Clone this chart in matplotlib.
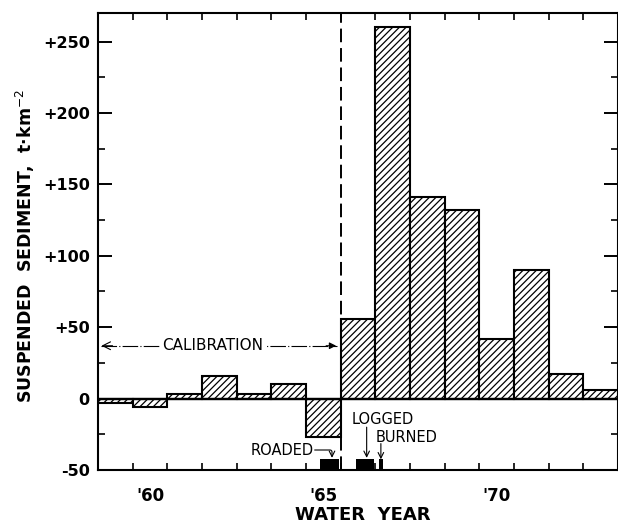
import matplotlib.pyplot as plt
import numpy as np

# water year and suspended sediment difference (t/km2)
years = [1959, 1960, 1961, 1962, 1963, 1964, 1965, 1966, 1967, 1968, 1969, 1970, 1971, 1972, 1973]
sediment = [-3, -6, 3, 16, 3, 10, -27, 56, 260, 141, 132, 42, 90, 17, 6]

# treatment periods (water year fractions)
treat_names = ['ROADED', 'LOGGED', 'BURNED']
treat_start = [1964.9, 1965.95, 1966.6]
treat_end = [1965.45, 1966.45, 1966.72]

yticks = [-50, 0, 50, 100, 150, 200, 250]
ytick_labels = ['-50', '0', '+50', '+100', '+150', '+200', '+250']
xticks = [1960, 1965, 1970]
xtick_labels = ["'60", "'65", "'70"]

plt.rcParams['hatch.linewidth'] = 0.9
plt.rcParams['font.family'] = 'DejaVu Sans'

fig = plt.figure(figsize=(6.18, 5.25), dpi=100)
ax = fig.add_axes([98/618, 55/525, 520/618, 457/525])

ax.bar(years, sediment, width=1, color='white', edgecolor='black',
       hatch='/////', linewidth=1.5, zorder=2)
ax.axhline(0, color='black', lw=1.7, zorder=3)
ax.axvline(1965.5, color='black', lw=1.4, ls=(0, (7, 3)), zorder=3)

ax.set_xlim(1958.5, 1973.5)
ax.set_ylim(-50, 270)

# ticks
ax.set_yticks(yticks)
ax.set_yticklabels(ytick_labels, fontsize=11.5, fontweight='bold')
ax.set_yticks(np.arange(-25, 270, 50), minor=True)
ax.tick_params(axis='y', which='major', direction='in', length=10, width=1.4,
               right=True, pad=6)
ax.tick_params(axis='y', which='minor', direction='in', length=5, width=1.2, right=True)

ax.set_xticks(xticks)
ax.set_xticklabels(xtick_labels, fontsize=12, fontweight='bold')
ax.set_xticks(np.arange(1958.5, 1974, 1), minor=True)
ax.tick_params(axis='x', which='major', length=0, pad=12)
ax.tick_params(axis='x', which='minor', direction='in', length=5, width=1.2, top=True)

for s in ax.spines.values():
    s.set_linewidth(1.5)

ax.set_ylabel('SUSPENDED  SEDIMENT,  t·km$^{-2}$', fontsize=12.5, fontweight='bold')
ax.yaxis.label.set_va('center')
ax.yaxis.set_label_coords(-0.14, 0.49)
ax.set_xlabel('WATER  YEAR', fontsize=13, fontweight='bold')
ax.xaxis.label.set_va('center')
ax.xaxis.set_label_coords(0.51, -0.098)

# calibration arrow
ax.plot([1958.6, 1965.4], [37, 37], color='black', lw=0.8, ls=(0, (14, 2, 1, 2)), zorder=1)
ax.annotate('', xy=(1958.52, 37), xytext=(1959.0, 37),
            arrowprops=dict(arrowstyle='->', lw=0.8, color='black', mutation_scale=14))
ax.annotate('', xy=(1965.45, 37), xytext=(1965.0, 37),
            arrowprops=dict(arrowstyle='-|>', lw=0.8, color='black', mutation_scale=10))
ax.text(1961.8, 37, 'CALIBRATION', fontsize=11, ha='center', va='center',
        bbox=dict(facecolor='white', edgecolor='none', pad=1.5), zorder=4)

# treatment bars
for a, b in zip(treat_start, treat_end):
    ax.broken_barh([(a, b - a)], (-49.5, 7), facecolors='black', zorder=4)

ax.text(1963.8, -36, treat_names[0], fontsize=10.5, ha='center', va='center')
ax.annotate('', xy=(1965.25, -41.5), xytext=(1964.75, -36),
            arrowprops=dict(arrowstyle='->', lw=0.8, color='black',
                            connectionstyle='angle,angleA=0,angleB=90,rad=2',
                            shrinkA=0, shrinkB=0))
ax.text(1966.7, -14.5, treat_names[1], fontsize=10.5, ha='center', va='center')
ax.annotate('', xy=(1966.25, -41.5), xytext=(1966.25, -20),
            arrowprops=dict(arrowstyle='->', lw=0.8, color='black', shrinkA=0, shrinkB=0))
ax.text(1967.4, -27, treat_names[2], fontsize=10.5, ha='center', va='center')
ax.annotate('', xy=(1966.66, -42.5), xytext=(1966.66, -31.5),
            arrowprops=dict(arrowstyle='->', lw=0.8, color='black', shrinkA=0, shrinkB=0))

fig.savefig('out.png', dpi=100)
